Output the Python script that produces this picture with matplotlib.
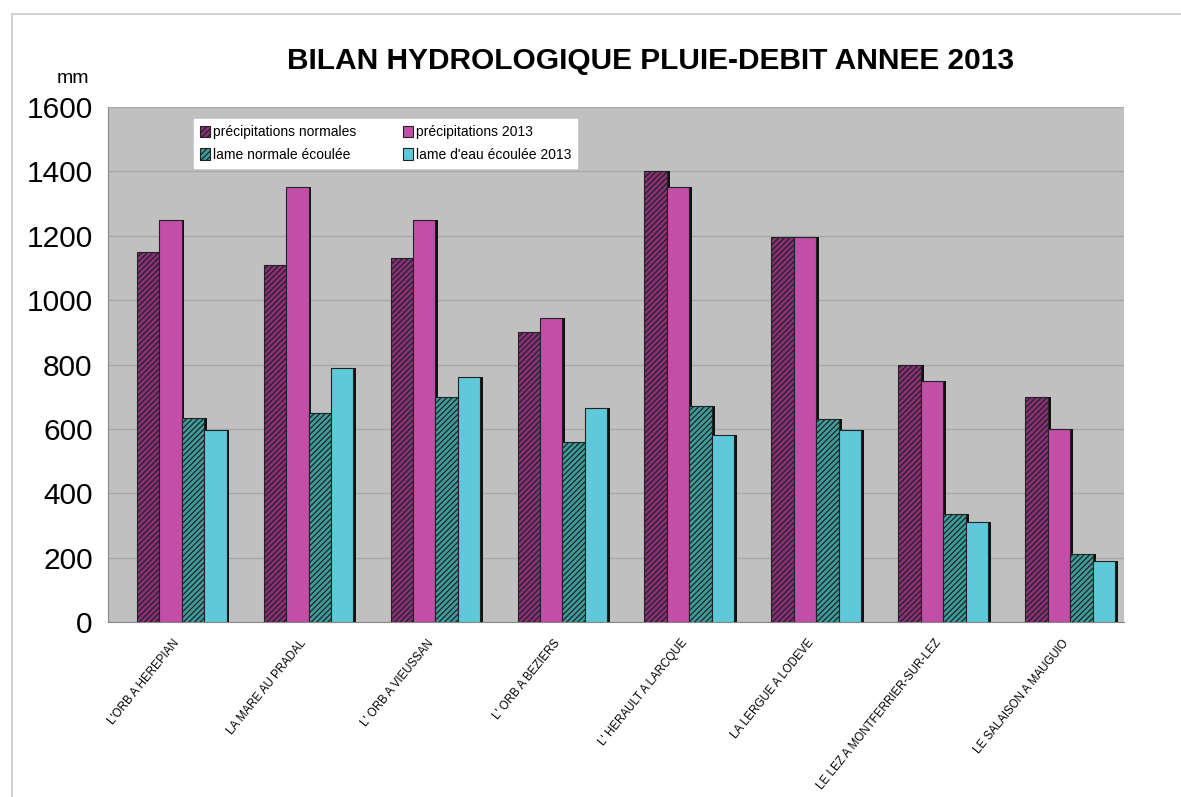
import numpy as np
import matplotlib.pyplot as plt
from matplotlib.patches import Rectangle

stations = [
    "L'ORB A HEREPIAN",
    "LA MARE AU PRADAL",
    "L' ORB A VIEUSSAN",
    "L' ORB A BEZIERS",
    "L' HERAULT A LARCQUE",
    "LA LERGUE A LODEVE",
    "LE LEZ A MONTFERRIER-SUR-LEZ",
    "LE SALAISON A MAUGUIO",
]
precip_normales = [1150, 1110, 1130, 900, 1400, 1195, 800, 700]
precip_2013 = [1248, 1350, 1250, 945, 1350, 1195, 750, 600]
lame_normale = [635, 650, 700, 560, 670, 630, 335, 210]
lame_2013 = [598, 790, 760, 665, 580, 595, 310, 190]

series = [
    ("précipitations normales", precip_normales, "#8a2f78", "//////"),
    ("précipitations 2013", precip_2013, "#c24ea8", None),
    ("lame normale écoulée", lame_normale, "#3d9c9c", "//////"),
    ("lame d'eau écoulée 2013", lame_2013, "#5ec9da", None),
]

plt.rcParams["font.family"] = ["Liberation Sans", "DejaVu Sans"]
plt.rcParams["hatch.color"] = "#1a1a1a"
plt.rcParams["hatch.linewidth"] = 0.9

fig = plt.figure(figsize=(11.81, 7.97), dpi=100)
fig.patches.append(Rectangle((0.010, -0.01), 1.0, 0.992, transform=fig.transFigure,
                             fill=False, edgecolor="#c8c8c8", linewidth=1.2))
ax = fig.add_axes([0.0914, 0.2196, 0.8600, 0.6461])
ax.set_facecolor("#c0c0c0")

x = np.arange(len(stations))
shift = 0.08
width = 0.177
offsets = (np.arange(4) - 1.5) * width + shift
handles = []
for (label, vals, color, hatch), off in zip(series, offsets):
    # dark drop shadow to the right of each bar
    ax.bar(x + off + 0.022, vals, width, color="#111111", zorder=2, linewidth=0)
    b = ax.bar(x + off, vals, width, color=color, hatch=hatch, edgecolor="#222222",
               linewidth=0.8, zorder=3, label=label)
    handles.append(b)

ax.set_xlim(-0.5, len(stations) - 0.5)
ax.set_ylim(0, 1600)
ax.set_yticks(range(0, 1601, 200))
ax.yaxis.grid(True, color="#a8a8a8", linewidth=1.0, zorder=0)
ax.set_axisbelow(True)
ax.tick_params(axis="y", labelsize=21.5, length=0, pad=11)
ax.tick_params(axis="x", length=0, pad=11)
ax.set_xticks(x + 0.01)
ax.set_xticklabels(stations, rotation=51, ha="right", rotation_mode="anchor", fontsize=8.3)
for s in ax.spines.values():
    s.set_visible(False)
ax.spines["left"].set_visible(True)
ax.spines["left"].set_color("#888888")
ax.spines["bottom"].set_visible(True)
ax.spines["bottom"].set_color("#888888")

order = [handles[0], handles[2], handles[1], handles[3]]
leg = ax.legend(order, [h.get_label() for h in order], ncol=2, loc="upper left",
                bbox_to_anchor=(0.078, 0.99), fontsize=10, frameon=True, fancybox=False,
                framealpha=1.0, handlelength=0.7, handleheight=0.9, handletextpad=0.2,
                columnspacing=3.4, labelspacing=0.6, borderpad=0.45)
leg.get_frame().set_edgecolor("white")
leg.get_frame().set_facecolor("white")

fig.text(0.551, 0.924, "BILAN HYDROLOGIQUE PLUIE-DEBIT ANNEE 2013", ha="center",
         va="center", fontsize=21.5, fontweight="bold")
fig.text(0.062, 0.902, "mm", ha="center", va="center", fontsize=14)

fig.savefig("out.png", dpi=100)
